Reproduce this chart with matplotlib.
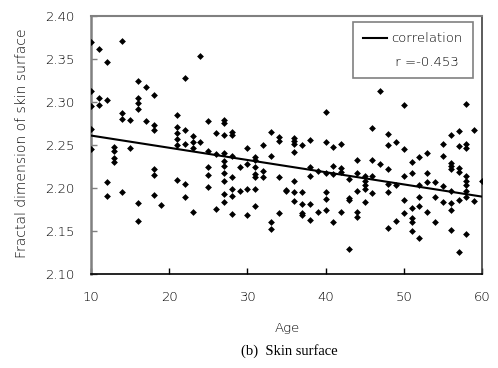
import matplotlib
matplotlib.use('Agg')
import matplotlib.pyplot as plt
from matplotlib.lines import Line2D

plt.rcParams['font.family'] = ['DejaVu Sans']

# ages 10-22
ages_a = [10, 10, 10, 10, 10, 11, 11, 11, 12, 12, 12, 12, 13, 13, 13, 13,
          14, 14, 14, 14, 15, 15, 16, 16, 16, 16, 16, 16, 17, 17,
          18, 18, 18, 18, 18, 18, 19, 21, 21, 21, 21, 21, 21, 22, 22, 22, 22, 22]
fd_a = [2.370, 2.313, 2.295, 2.269, 2.245, 2.362, 2.305, 2.296, 2.346, 2.302, 2.207, 2.191,
        2.248, 2.243, 2.235, 2.230, 2.371, 2.287, 2.280, 2.195, 2.279, 2.246,
        2.325, 2.305, 2.299, 2.292, 2.183, 2.162, 2.317, 2.278,
        2.308, 2.273, 2.268, 2.222, 2.215, 2.192, 2.180,
        2.285, 2.271, 2.264, 2.257, 2.250, 2.209, 2.328, 2.267, 2.251, 2.205, 2.189]

# ages 23-34
ages_b = [23, 23, 23, 23, 24, 24, 25, 25, 25, 25, 25, 26, 26, 26,
          27, 27, 27, 27, 27, 27, 27, 27, 27, 27, 28, 28, 28, 28, 28, 28, 28,
          29, 29, 30, 30, 30, 30, 31, 31, 31, 31, 31, 31, 31, 32, 32, 32,
          33, 33, 33, 33, 34, 34, 34, 34]
fd_b = [2.261, 2.254, 2.246, 2.172, 2.353, 2.254, 2.278, 2.243, 2.224, 2.215, 2.201,
        2.264, 2.239, 2.176,
        2.279, 2.276, 2.262, 2.241, 2.231, 2.226, 2.218, 2.208, 2.193, 2.184,
        2.265, 2.262, 2.237, 2.213, 2.199, 2.191, 2.170,
        2.225, 2.196, 2.246, 2.228, 2.199, 2.169,
        2.236, 2.232, 2.224, 2.216, 2.213, 2.199, 2.179, 2.250, 2.220, 2.213,
        2.265, 2.237, 2.160, 2.152, 2.259, 2.255, 2.213, 2.171]

# ages 35-47
ages_c = [35, 35, 36, 36, 36, 36, 36, 36, 36, 37, 37, 37, 37, 37, 38, 38, 38, 38, 38,
          39, 39, 40, 40, 40, 40, 40, 40, 41, 41, 41, 41, 42, 42, 42, 42,
          43, 43, 43, 43, 44, 44, 44, 44, 44, 45, 45, 45, 45, 45, 46, 46, 46, 46, 47, 47]
fd_c = [2.198, 2.197, 2.258, 2.255, 2.251, 2.242, 2.208, 2.195, 2.185,
        2.250, 2.195, 2.181, 2.171, 2.169, 2.256, 2.224, 2.214, 2.181, 2.163,
        2.220, 2.172, 2.288, 2.254, 2.217, 2.195, 2.187, 2.174,
        2.248, 2.226, 2.216, 2.161, 2.251, 2.223, 2.219, 2.172,
        2.210, 2.188, 2.186, 2.129, 2.232, 2.217, 2.196, 2.172, 2.166,
        2.214, 2.208, 2.203, 2.199, 2.184, 2.270, 2.232, 2.214, 2.194, 2.313, 2.228]

# ages 48-60
ages_d = [48, 48, 48, 48, 48, 48, 49, 49, 49, 50, 50, 50, 50, 50,
          51, 51, 51, 51, 51, 51, 52, 52, 52, 52, 52, 53, 53, 53, 53, 54, 54, 54,
          55, 55, 55, 55, 56, 56, 56, 56, 56, 56, 56, 56, 57, 57, 57, 57, 57, 57,
          58, 58, 58, 58, 58, 58, 58, 58, 58, 59, 59, 60]
fd_d = [2.263, 2.250, 2.222, 2.205, 2.195, 2.154, 2.253, 2.204, 2.162,
        2.296, 2.245, 2.214, 2.186, 2.171,
        2.230, 2.217, 2.177, 2.165, 2.161, 2.150, 2.236, 2.203, 2.189, 2.179, 2.142,
        2.241, 2.217, 2.207, 2.172, 2.207, 2.190, 2.161,
        2.251, 2.237, 2.202, 2.184, 2.262, 2.229, 2.226, 2.222, 2.196, 2.183, 2.175, 2.151,
        2.266, 2.249, 2.223, 2.219, 2.186, 2.126,
        2.298, 2.251, 2.246, 2.214, 2.208, 2.204, 2.197, 2.189, 2.147, 2.268, 2.185, 2.208]

# regression line end points
line_age = [10, 60]
line_fd = [2.261, 2.190]
r_text = 'r =-0.453'

x_ticks = [10, 20, 30, 40, 50, 60]
y_ticks = [2.10, 2.15, 2.20, 2.25, 2.30, 2.35, 2.40]

fig = plt.figure(figsize=(4.98, 3.68), dpi=100)
ax = fig.add_axes([0.1827, 0.2554, 0.7851, 0.7011])

for ages, fd in [(ages_a, fd_a), (ages_b, fd_b), (ages_c, fd_c), (ages_d, fd_d)]:
    ax.scatter(ages, fd, marker='D', s=12, color='black', linewidths=0, zorder=3)

ax.plot(line_age, line_fd, color='black', lw=1.5, zorder=4)

ax.set_xlim(10, 60)
ax.set_ylim(2.10, 2.40)
ax.set_xticks(x_ticks)
ax.set_yticks(y_ticks)
ax.set_yticklabels(['%.2f' % v for v in y_ticks])
ax.tick_params(direction='in', length=4, width=1, labelsize=9.5, colors='black')
ax.tick_params(axis='x', pad=12)
ax.tick_params(axis='y', pad=12, color='#808080')
for lab in ax.get_xticklabels() + ax.get_yticklabels():
    lab.set_fontweight('light')

ax.spines['left'].set_color('#808080')
ax.spines['left'].set_linewidth(1.8)
ax.spines['top'].set_color('#808080')
ax.spines['top'].set_linewidth(1.5)
ax.spines['right'].set_color('#404040')
ax.spines['right'].set_linewidth(1.2)
ax.spines['bottom'].set_color('black')
ax.spines['bottom'].set_linewidth(1.2)

handles = [Line2D([], [], color='black', lw=1.5), Line2D([], [], color='none')]
leg = ax.legend(handles, ['correlation', ' ' + r_text], loc='upper right',
                bbox_to_anchor=(0.977, 0.977), borderaxespad=0, fancybox=False,
                edgecolor='#808080', framealpha=1, prop={'size': 9.5, 'weight': 'light'},
                handlelength=1.8, handletextpad=0.3, labelspacing=0.85, borderpad=0.8)
leg.get_frame().set_linewidth(1.2)

fig.text(22 / 498, 0.61, 'Fractal dimension of skin surface', rotation=90,
         ha='center', va='center', fontsize=10, fontweight='light')
fig.text(0.576, 0.109, 'Age', ha='center', va='center', fontsize=9.5,
         fontweight='light')
fig.text(0.58, 0.046, '(b)  Skin surface', ha='center', va='center', fontsize=10.5,
         family='Liberation Serif')

fig.savefig('out.png', dpi=100)
